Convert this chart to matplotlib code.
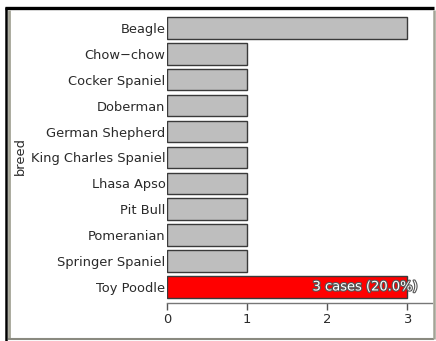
import matplotlib.pyplot as plt
import matplotlib.patheffects as pe
from matplotlib.lines import Line2D

breeds = ["Beagle", "Chow\u2212chow", "Cocker Spaniel", "Doberman", "German Shepherd",
          "King Charles Spaniel", "Lhasa Apso", "Pit Bull", "Pomeranian",
          "Springer Spaniel", "Toy Poodle"]
counts = [3, 1, 1, 1, 1, 1, 1, 1, 1, 1, 3]
selected = "Toy Poodle"
x_ticks = [0, 1, 2, 3]

plt.rcParams['font.family'] = ['DejaVu Sans']
fs = 9.4
txt = '#2a2a2a'

fig = plt.figure(figsize=(4.36, 3.41), dpi=100)
fig.patch.set_facecolor('white')

W, H = 436, 341
ax = fig.add_axes([167 / W, 1 - 303 / H, (432 - 167) / W, (303 - 10) / H])

pos = list(range(len(breeds)))
colors = ['#ff0000' if b == selected else '#bebebe' for b in breeds]
ax.barh(pos, counts, height=0.83, color=colors, edgecolor='#3a3a3a', linewidth=1.0)

ax.set_xlim(0, 3.31)
ax.set_ylim(10.62, -0.69)
ax.set_yticks(pos)
ax.set_yticklabels(breeds, fontsize=fs, color=txt)
ax.tick_params(axis='y', length=0, pad=1)
ax.set_xticks(x_ticks)
ax.set_xticklabels([str(t) for t in x_ticks], fontsize=fs, color=txt)
ax.tick_params(axis='x', length=5, width=1, color='#555555', pad=2)

for s in ['left', 'top', 'right']:
    ax.spines[s].set_visible(False)
ax.spines['bottom'].set_color('#777777')
ax.spines['bottom'].set_linewidth(1)

ax.set_ylabel('breed', fontsize=fs, color=txt)
ax.yaxis.set_label_coords(-0.528, 0.50)

# label on the selected bar
total = sum(counts)
i = breeds.index(selected)
n = counts[i]
ax.annotate(f"{n} cases ({n / total * 100:.1f}%)", xy=(n, i), xytext=(10, 0),
            textcoords='offset pixels', ha='right', va='center', fontsize=fs,
            color='white',
            path_effects=[pe.withStroke(linewidth=1.6, foreground='#555555')])

# window frame
def fline(x0, y0, x1, y1, color, lw):
    fig.add_artist(Line2D([x0 / W, x1 / W], [1 - y0 / H, 1 - y1 / H],
                          transform=fig.transFigure, color=color, linewidth=lw,
                          solid_capstyle='butt'))

fline(5, 8, 434, 8, 'black', 2.4)
fline(5.5, 7, 5.5, 341, 'black', 1.8)
fline(8.5, 10, 8.5, 339, '#a4a496', 2.0)
fline(8, 338.5, 434, 338.5, '#8a8a80', 1.5)
fline(433.5, 10, 433.5, 339, '#a4a496', 1.8)

fig.savefig('out.png', dpi=100)
